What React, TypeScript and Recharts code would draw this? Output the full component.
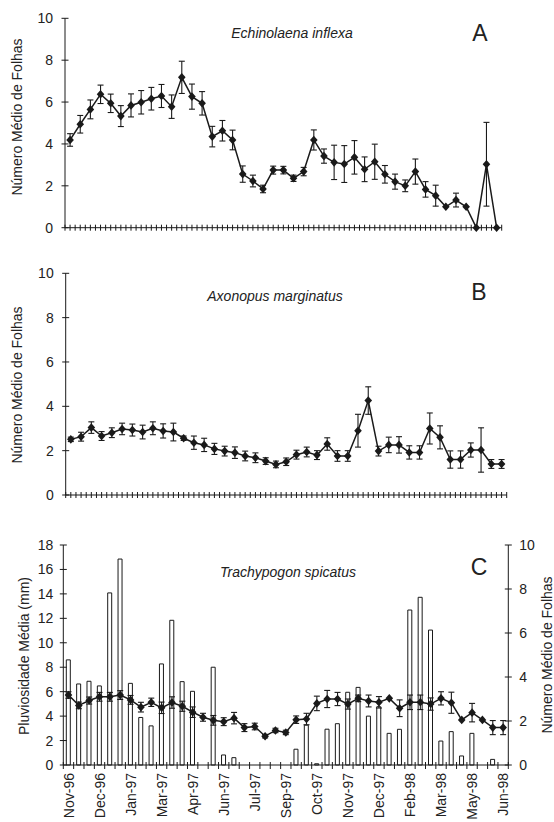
import React from 'react';
import { ComposedChart, Line, Bar, XAxis, YAxis, ErrorBar } from 'recharts';

const FONT = '"Liberation Sans", Arial, Helvetica, sans-serif';
const INK = '#1a1a1a';
const TXT = '#222222';

// Month tick labels (every third sampling date)
const tickLabels = ['Nov-96', 'Dec-96', 'Jan-97', 'Mar-97', 'Apr-97', 'Jun-97', 'Jul-97', 'Sep-97', 'Oct-97', 'Nov-97', 'Dec-97', 'Feb-98', 'Mar-98', 'May-98', 'Jun-98'];

// A - Echinolaena inflexa
const echinolaenaMean = [4.19, 4.94, 5.65, 6.37, 5.94, 5.33, 5.84, 5.99, 6.16, 6.29, 5.78, 7.18, 6.26, 5.94, 4.35, 4.63, 4.19, 2.56, 2.23, 1.85, 2.75, 2.75, 2.36, 2.68, 4.19, 3.42, 3.12, 3.04, 3.36, 2.79, 3.15, 2.55, 2.2, 2.0, 2.68, 1.83, 1.53, 1.0, 1.32, 1.0, 0, 3.03, 0];
const echinolaenaErr = [0.3, 0.42, 0.45, 0.44, 0.44, 0.5, 0.55, 0.56, 0.54, 0.55, 0.56, 0.77, 0.6, 0.56, 0.49, 0.49, 0.47, 0.39, 0.28, 0.18, 0.19, 0.18, 0.15, 0.2, 0.48, 0.34, 0.82, 0.88, 0.8, 0.59, 0.84, 0.42, 0.36, 0.28, 0.6, 0.37, 0.5, 0, 0.33, 0, 0, 2.0, 0];

// B - Axonopus marginatus
const axonopusMean = [2.51, 2.63, 3.04, 2.66, 2.81, 2.98, 2.93, 2.84, 3.01, 2.89, 2.84, 2.56, 2.36, 2.26, 2.08, 1.98, 1.91, 1.76, 1.68, 1.53, 1.38, 1.5, 1.82, 1.94, 1.8, 2.3, 1.76, 1.76, 2.9, 4.26, 1.98, 2.26, 2.26, 1.92, 1.92, 3.0, 2.6, 1.6, 1.6, 2.03, 2.03, 1.4, 1.4];
const axonopusErr = [0.1, 0.2, 0.26, 0.2, 0.22, 0.26, 0.27, 0.31, 0.29, 0.32, 0.4, 0.1, 0.3, 0.3, 0.25, 0.22, 0.26, 0.22, 0.22, 0.15, 0.15, 0.17, 0.2, 0.22, 0.2, 0.28, 0.24, 0.24, 0.74, 0.62, 0.22, 0.35, 0.37, 0.3, 0.3, 0.7, 0.52, 0.39, 0.39, 0.32, 1.0, 0.2, 0.2];

// C - Trachypogon spicatus
const trachypogonMean = [3.18, 2.71, 2.93, 3.1, 3.1, 3.18, 2.96, 2.63, 2.85, 2.6, 2.84, 2.67, 2.4, 2.17, 2.03, 1.97, 2.13, 1.7, 1.75, 1.31, 1.57, 1.48, 2.06, 2.09, 2.8, 3.0, 3.0, 2.77, 3.03, 2.91, 2.85, 3.03, 2.58, 2.85, 2.85, 2.77, 3.03, 2.83, 2.05, 2.38, 2.05, 1.7, 1.7];
const trachypogonErr = [0.15, 0.15, 0.16, 0.2, 0.2, 0.2, 0.2, 0.22, 0.19, 0.26, 0.26, 0.23, 0.24, 0.18, 0.22, 0.18, 0.26, 0.18, 0.15, 0.08, 0.1, 0.1, 0.17, 0.26, 0.33, 0.39, 0.3, 0.23, 0.15, 0.27, 0.26, 0, 0.38, 0.33, 0.33, 0.28, 0.3, 0.48, 0, 0.42, 0, 0.32, 0.32];

// Mean rainfall (mm)
const rainfall = [8.6, 6.63, 6.85, 6.47, 14.08, 16.85, 6.68, 3.89, 3.2, 8.27, 11.84, 6.82, 6.03, 0, 8.0, 0.82, 0.6, 0, 0, 0, 0, 0, 1.29, 3.26, 0.1, 2.93, 3.38, 5.95, 6.35, 4.0, 4.77, 2.59, 2.92, 12.68, 13.72, 11.04, 1.96, 2.73, 0.74, 2.59, 0, 0.46, 0];

const leafTicks = [0, 2, 4, 6, 8, 10];
const rainTicks = [0, 2, 4, 6, 8, 10, 12, 14, 16, 18];

const W = 554;

function Diamond(props: any) {
  const { cx, cy } = props;
  if (cx == null || cy == null) return null;
  return (
    <path
      d={`M${cx},${cy - 4.3}L${cx + 3.8},${cy}L${cx},${cy + 4.3}L${cx - 3.8},${cy}Z`}
      fill={INK}
      stroke="none"
    />
  );
}

const makeYTick = (axisX: number, side: 'left' | 'right', gap: number) => (props: any) => {
  const { y, payload } = props;
  return (
    <g>
      <line x1={axisX - 3.5} x2={axisX + 3.5} y1={y} y2={y} stroke={INK} strokeWidth={1} />
      <text
        x={side === 'left' ? axisX - gap : axisX + gap}
        y={y}
        dy="0.36em"
        textAnchor={side === 'left' ? 'end' : 'start'}
        fontSize={14}
        fontFamily={FONT}
        fill={TXT}
      >
        {payload.value}
      </text>
    </g>
  );
};

type PanelProps = {
  top: number;
  height: number;
  plotLeft: number;
  plotRight: number;
  plotTop: number;
  plotBottom: number;
  mean: number[];
  err: number[];
};

function LeafPanel({ top, height, plotLeft, plotRight, plotTop, plotBottom, mean, err }: PanelProps) {
  const data = mean.map((v, i) => ({ i, v, e: err[i] }));
  const n = data.length;
  const band = (plotRight - plotLeft) / n;
  const axisY = plotBottom - top;
  const XTick = (p: any) => {
    const { x, index } = p;
    const xs = [x, x - band / 2];
    if (index === n - 1) xs.push(x + band / 2);
    return (
      <g>
        {xs.map((lx, k) => (
          <line key={k} x1={lx} x2={lx} y1={axisY - 3} y2={axisY + 3} stroke={INK} strokeWidth={1} />
        ))}
      </g>
    );
  };
  return (
    <div style={{ position: 'absolute', left: 0, top, width: W, height }}>
      <ComposedChart
        width={W}
        height={height}
        data={data}
        margin={{ top: plotTop - top, right: W - plotRight, bottom: 0, left: 0 }}
      >
        <XAxis
          dataKey="i"
          type="category"
          scale="band"
          interval={0}
          tickLine={false}
          tick={XTick}
          height={height - axisY}
          axisLine={{ stroke: INK, strokeWidth: 1 }}
        />
        <YAxis
          type="number"
          domain={[0, 10]}
          ticks={leafTicks}
          interval={0}
          width={plotLeft}
          tickLine={false}
          tick={makeYTick(plotLeft, 'left', 12)}
          axisLine={{ stroke: INK, strokeWidth: 1 }}
        />
        <Line
          dataKey="v"
          stroke={INK}
          strokeWidth={1.5}
          dot={(p: any) => <Diamond key={`d${p.index}`} {...p} />}
          activeDot={false}
          isAnimationActive={false}
        >
          <ErrorBar dataKey="e" width={3} stroke={INK} strokeWidth={1.1} direction="y" isAnimationActive={false} />
        </Line>
      </ComposedChart>
    </div>
  );
}

function RainPanel() {
  const top = 520;
  const height = 302;
  const plotLeft = 63.3;
  const plotRight = 508.3;
  const plotTop = 545;
  const plotBottom = 765;
  const data = trachypogonMean.map((v, i) => ({ i, v, e: trachypogonErr[i], r: rainfall[i] }));
  const n = data.length;
  const band = (plotRight - plotLeft) / n;
  const axisY = plotBottom - top;
  const XTick = (p: any) => {
    const { x, index } = p;
    const xs = [x - band / 2];
    if (index === n - 1) xs.push(x + band / 2);
    const label = index % 3 === 0 ? tickLabels[index / 3] : null;
    return (
      <g>
        {xs.map((lx, k) => (
          <line key={k} x1={lx} x2={lx} y1={axisY - 3} y2={axisY + 4} stroke={INK} strokeWidth={1} />
        ))}
        {label && (
          <text
            x={x}
            y={axisY + 8}
            dy="0.36em"
            transform={`rotate(-90, ${x}, ${axisY + 8})`}
            textAnchor="end"
            fontSize={14}
            fontFamily={FONT}
            fill={TXT}
          >
            {label}
          </text>
        )}
      </g>
    );
  };
  return (
    <div style={{ position: 'absolute', left: 0, top, width: W, height }}>
      <ComposedChart
        width={W}
        height={height}
        data={data}
        margin={{ top: plotTop - top, right: 0, bottom: 0, left: 0 }}
        barCategoryGap={0}
      >
        <XAxis
          dataKey="i"
          type="category"
          scale="band"
          interval={0}
          tickLine={false}
          tick={XTick}
          height={height - axisY}
          axisLine={{ stroke: INK, strokeWidth: 1 }}
        />
        <YAxis
          yAxisId="left"
          type="number"
          domain={[0, 18]}
          ticks={rainTicks}
          interval={0}
          width={plotLeft}
          tickLine={false}
          tick={makeYTick(plotLeft, 'left', 10)}
          axisLine={{ stroke: INK, strokeWidth: 1 }}
        />
        <YAxis
          yAxisId="right"
          orientation="right"
          type="number"
          domain={[0, 10]}
          ticks={leafTicks}
          interval={0}
          width={W - plotRight}
          tickLine={false}
          tick={makeYTick(plotRight, 'right', 11)}
          axisLine={{ stroke: INK, strokeWidth: 1 }}
        />
        <Bar
          yAxisId="left"
          dataKey="r"
          barSize={4}
          fill="#ffffff"
          stroke={INK}
          strokeWidth={1}
          isAnimationActive={false}
        />
        <Line
          yAxisId="right"
          dataKey="v"
          stroke={INK}
          strokeWidth={1.5}
          dot={(p: any) => <Diamond key={`c${p.index}`} {...p} />}
          activeDot={false}
          isAnimationActive={false}
        >
          <ErrorBar dataKey="e" width={3} stroke={INK} strokeWidth={1.1} direction="y" isAnimationActive={false} />
        </Line>
      </ComposedChart>
    </div>
  );
}

function Labels() {
  const t = { fontFamily: FONT, fill: TXT } as const;
  return (
    <svg
      width={W}
      height={822}
      style={{ position: 'absolute', left: 0, top: 0, pointerEvents: 'none', overflow: 'visible' }}
    >
      {/* Panel A */}
      <text {...t} x={17} y={117} fontSize={14} textAnchor="middle" dominantBaseline="central" transform="rotate(-90, 17, 117)">
        Número Médio de Folhas
      </text>
      <text {...t} x={292} y={33} fontSize={14} fontStyle="italic" textAnchor="middle" dominantBaseline="central">
        Echinolaena inflexa
      </text>
      <text {...t} x={480} y={33} fontSize={23} textAnchor="middle" dominantBaseline="central">
        A
      </text>
      {/* Panel B */}
      <text {...t} x={17} y={385} fontSize={14} textAnchor="middle" dominantBaseline="central" transform="rotate(-90, 17, 385)">
        Número Médio de Folhas
      </text>
      <text {...t} x={275} y={296} fontSize={14} fontStyle="italic" textAnchor="middle" dominantBaseline="central">
        Axonopus marginatus
      </text>
      <text {...t} x={479} y={292} fontSize={23} textAnchor="middle" dominantBaseline="central">
        B
      </text>
      {/* Panel C */}
      <text {...t} x={24} y={656} fontSize={14} textAnchor="middle" dominantBaseline="central" transform="rotate(-90, 24, 656)">
        Pluviosidade Média (mm)
      </text>
      <text {...t} x={288} y={572} fontSize={14} fontStyle="italic" textAnchor="middle" dominantBaseline="central">
        Trachypogon spicatus
      </text>
      <text {...t} x={479} y={567} fontSize={23} textAnchor="middle" dominantBaseline="central">
        C
      </text>
      <text {...t} x={547} y={655} fontSize={14} textAnchor="middle" dominantBaseline="central" transform="rotate(-90, 547, 655)">
        Número Médio de Folhas
      </text>
    </svg>
  );
}

export default function App() {
  return (
    <div style={{ position: 'absolute', left: 0, top: 0, width: W, height: 822, background: '#ffffff', overflow: 'hidden' }}>
      <LeafPanel
        top={0}
        height={240}
        plotLeft={65}
        plotRight={501.7}
        plotTop={18.3}
        plotBottom={227.7}
        mean={echinolaenaMean}
        err={echinolaenaErr}
      />
      <LeafPanel
        top={250}
        height={255}
        plotLeft={65.7}
        plotRight={506.7}
        plotTop={273.3}
        plotBottom={495}
        mean={axonopusMean}
        err={axonopusErr}
      />
      <RainPanel />
      <Labels />
    </div>
  );
}
